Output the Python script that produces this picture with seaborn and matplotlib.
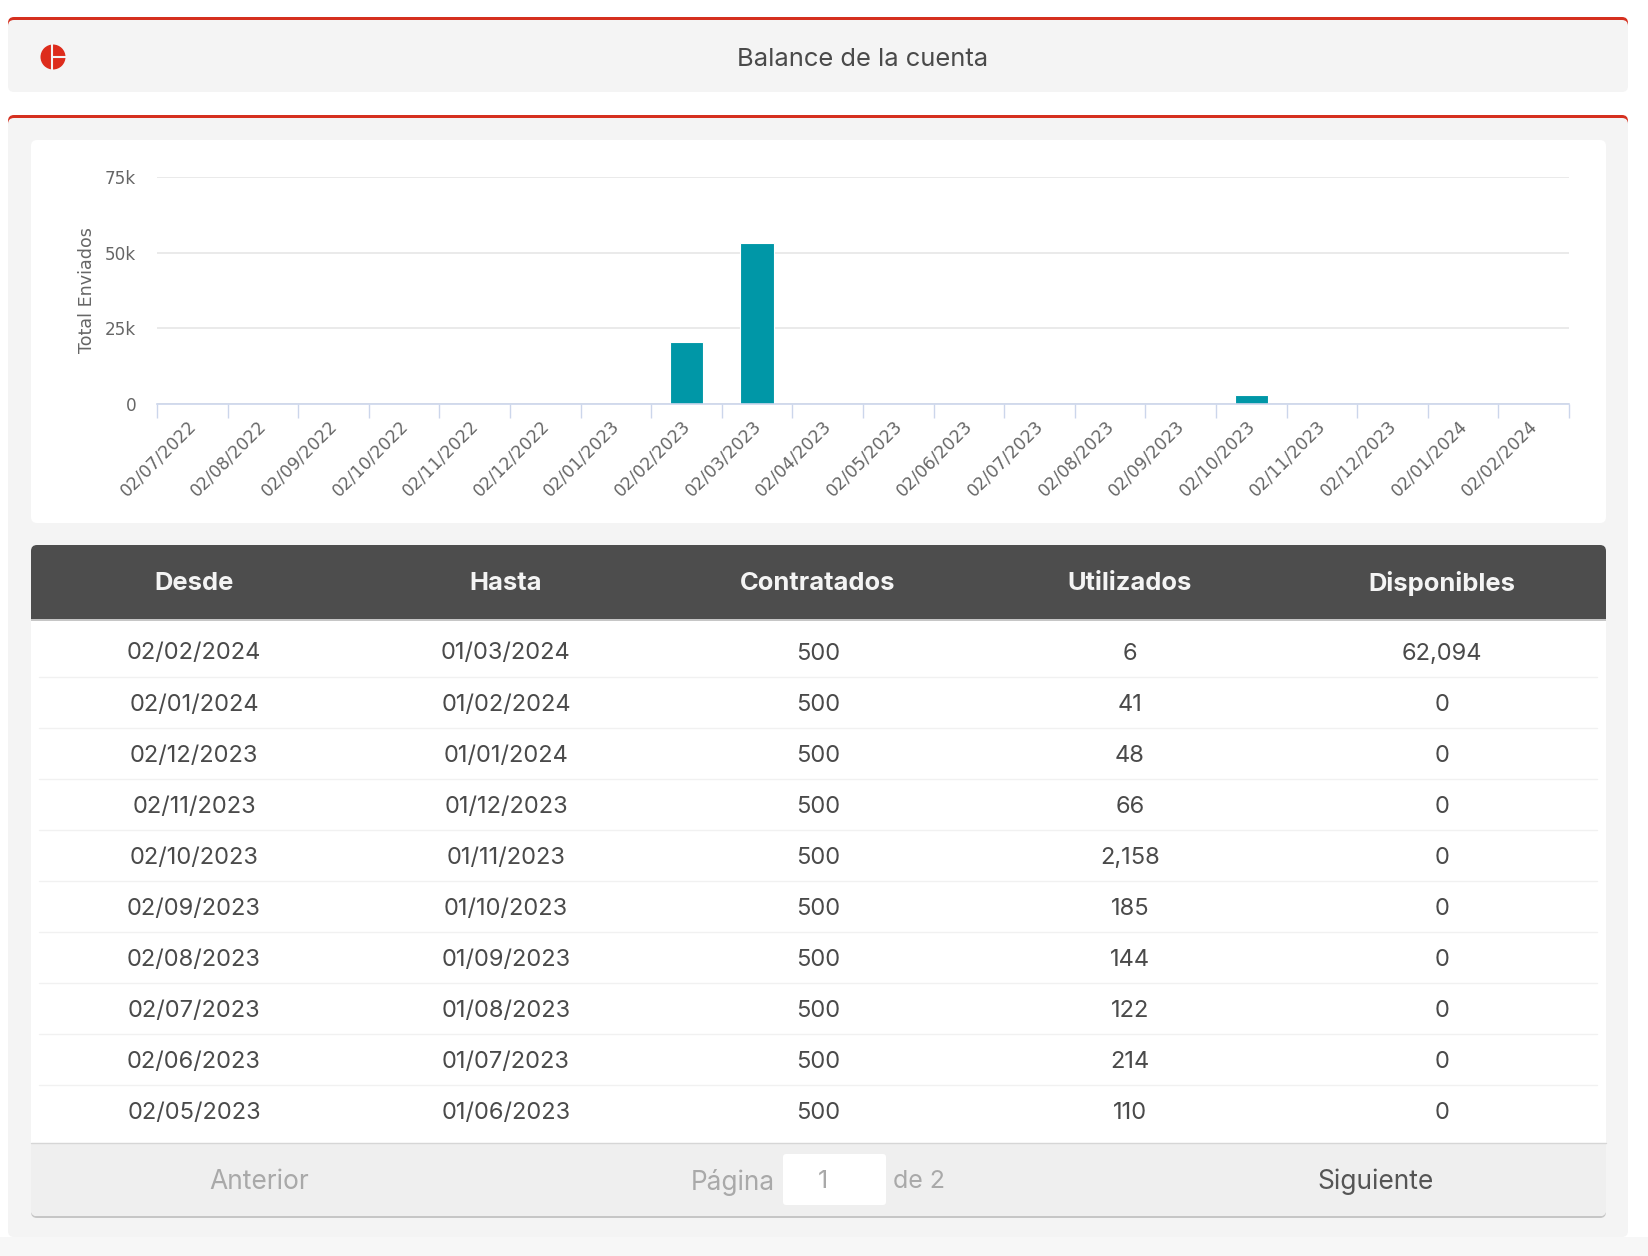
import matplotlib
matplotlib.use("Agg")
import matplotlib.pyplot as plt
from matplotlib.patches import FancyBboxPatch, Rectangle, Circle
from matplotlib.transforms import ScaledTranslation
import numpy as np
import pandas as pd
import seaborn as sns

# chart data
meses = ['02/07/2022', '02/08/2022', '02/09/2022', '02/10/2022', '02/11/2022',
         '02/12/2022', '02/01/2023', '02/02/2023', '02/03/2023', '02/04/2023',
         '02/05/2023', '02/06/2023', '02/07/2023', '02/08/2023', '02/09/2023',
         '02/10/2023', '02/11/2023', '02/12/2023', '02/01/2024', '02/02/2024']
enviados = [0, 0, 0, 0, 0, 0, 0, 20500, 53200, 0, 0, 0, 0, 0, 0, 3100, 0, 0, 0, 0]
y_ticks = [0, 25000, 50000, 75000]
y_labels = ['0', '25k', '50k', '75k']

# table data
columnas = ['Desde', 'Hasta', 'Contratados', 'Utilizados', 'Disponibles']
desde = ['02/02/2024', '02/01/2024', '02/12/2023', '02/11/2023', '02/10/2023',
         '02/09/2023', '02/08/2023', '02/07/2023', '02/06/2023', '02/05/2023']
hasta = ['01/03/2024', '01/02/2024', '01/01/2024', '01/12/2023', '01/11/2023',
         '01/10/2023', '01/09/2023', '01/08/2023', '01/07/2023', '01/06/2023']
contratados = ['500'] * 10
utilizados = ['6', '41', '48', '66', '2,158', '185', '144', '122', '214', '110']
disponibles = ['62,094', '0', '0', '0', '0', '0', '0', '0', '0', '0']

W, H = 1648, 1256
ROJO = '#d5301f'
PANEL = '#f4f4f4'
TEXTO = '#4a4a4a'
UI_FONT = ['Inter', 'DejaVu Sans']

sns.set_theme(style='white')
plt.rcParams['font.family'] = ['DejaVu Sans']

fig = plt.figure(figsize=(W / 100, H / 100), dpi=100, facecolor='white')

# page layer in pixel coordinates
bg = fig.add_axes([0, 0, 1, 1])
bg.set_xlim(0, W)
bg.set_ylim(H, 0)
bg.axis('off')


def caja(x0, y0, x1, y1, color, r=6, z=1):
    p = FancyBboxPatch((x0 + r, y0 + r), x1 - x0 - 2 * r, y1 - y0 - 2 * r,
                       boxstyle=f'round,pad={r},rounding_size={r}',
                       fc=color, ec='none', zorder=z)
    bg.add_patch(p)


bg.add_patch(Rectangle((0, 1237), W, 19, fc='#f7f7f7', ec='none', zorder=0))

# header card
caja(8, 17, 1628, 60, ROJO)
caja(8, 20, 1628, 92, PANEL, z=2)
bg.add_patch(Circle((53, 57), 12.5, fc='#dd2c1c', ec='none', zorder=3))
bg.plot([52.5, 52.5], [43, 71], color=PANEL, lw=1.5, zorder=4)
bg.plot([53, 67], [57, 57], color=PANEL, lw=1.5, zorder=4)
bg.text(863, 59, 'Balance de la cuenta', family=UI_FONT, fontsize=18.4,
        color=TEXTO, ha='center', va='center', zorder=4)

# main panel and chart card
caja(8, 115, 1628, 170, ROJO)
caja(8, 118, 1628, 1237, PANEL, z=2)
caja(31, 140, 1606, 523, 'white', z=3)

# table
caja(31, 547, 1606, 1218, '#c6c6c6', z=3)
caja(31, 545, 1606, 1216, 'white', z=4)
caja(31, 1100, 1606, 1216, '#efefef', z=5)
bg.add_patch(Rectangle((31, 620), 1575, 523, fc='white', ec='none', zorder=6))
bg.plot([31, 1606], [1143, 1143], color='#d6d6d6', lw=1, zorder=7)
bg.add_patch(Rectangle((31, 619), 1575, 2, fc='#c6c6c6', ec='none', zorder=6))
caja(31, 545, 1606, 600, '#4d4d4d', z=7)
bg.add_patch(Rectangle((31, 580), 1575, 39, fc='#4d4d4d', ec='none', zorder=7))

col_x = [194 + 312 * i for i in range(5)]
for x, nombre in zip(col_x, columnas):
    bg.text(x, 584, nombre, family=UI_FONT, fontsize=18.4, fontweight='bold',
            color='#f4f4f4', ha='center', va='center', zorder=8)

filas = list(zip(desde, hasta, contratados, utilizados, disponibles))
for i, fila in enumerate(filas):
    yc = 651 + 51.1 * i
    for x, valor in zip(col_x, fila):
        bg.text(x, yc + 2.5, valor, family=UI_FONT, fontsize=17, color=TEXTO,
                ha='center', va='center', zorder=8)
    if i < len(filas) - 1:
        bg.plot([39, 1597], [yc + 25.5, yc + 25.5], color='#f1f1f1', lw=1, zorder=7)

# pager
bg.text(259, 1182, 'Anterior', family=UI_FONT, fontsize=19, color='#a9a9a9',
        ha='center', va='center', zorder=8)
bg.text(733, 1182, 'Página', family=UI_FONT, fontsize=18.9, color='#a9a9a9',
        ha='center', va='center', zorder=8)
caja(783, 1154, 886, 1205, 'white', r=3, z=7)
bg.text(823, 1182, '1', family=UI_FONT, fontsize=18, color='#a9a9a9',
        ha='center', va='center', zorder=8)
bg.text(919, 1182, 'de 2', family=UI_FONT, fontsize=18, color='#a9a9a9',
        ha='center', va='center', zorder=8)
bg.text(1376, 1182, 'Siguiente', family=UI_FONT, fontsize=19, color='#555555',
        ha='center', va='center', zorder=8)

# bar chart
df = pd.DataFrame({'fecha': meses, 'total': enviados})
ax = fig.add_axes([157 / W, 1 - 404 / H, 1412 / W, 227 / H])
ax.patch.set_alpha(0)
sns.barplot(data=df, x='fecha', y='total', color='#0097a7', saturation=1,
            width=0.475, edgecolor='white', linewidth=0.8, ax=ax)
ax.set_xlim(-0.5, len(meses) - 0.5)
ax.set_ylim(0, 75000)
ax.set_xlabel('')
ax.set_ylabel('Total Enviados', fontsize=12.6, color='#666666')
ax.yaxis.set_label_coords(-61 / 1412, 0.5)
ax.set_yticks(y_ticks, y_labels, fontsize=12.2, color='#666666')
ax.tick_params(axis='y', length=0, pad=15)
bajar = ScaledTranslation(0, -2 / 100, fig.dpi_scale_trans)
for lab in ax.get_yticklabels():
    lab.set_va('center')
    lab.set_transform(lab.get_transform() + bajar)
ax.yaxis.grid(True, color='#e6e6e6', lw=1.2)
ax.set_axisbelow(True)
ax.set_xticks(range(len(meses)), meses)
ax.set_xticks(np.arange(-0.5, len(meses)), minor=True)
ax.tick_params(axis='x', which='major', length=0, pad=14, labelsize=12.4, labelcolor='#666666')
ax.tick_params(axis='x', which='minor', length=10, width=1, color='#ccd6eb', bottom=True)
plt.setp(ax.get_xticklabels(), rotation=45, ha='right', va='center', rotation_mode='anchor')
derecha = ScaledTranslation(1 / 100, 0, fig.dpi_scale_trans)
for lab in ax.get_xticklabels():
    lab.set_transform(lab.get_transform() + derecha)
sns.despine(ax=ax, left=True, top=True, right=True)
ax.spines['bottom'].set_color('#ccd6eb')
ax.spines['bottom'].set_linewidth(1.2)

fig.savefig('out.png', dpi=100, facecolor='white')
